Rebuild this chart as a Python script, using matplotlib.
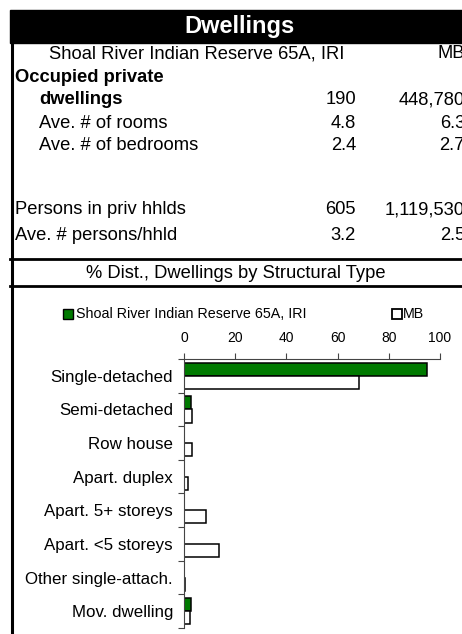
import matplotlib
matplotlib.use("Agg")
import matplotlib.pyplot as plt
import numpy as np

plt.rcParams['font.family'] = ['Liberation Sans', 'DejaVu Sans']

# ---- data ----
title = "Dwellings"
area_name = "Shoal River Indian Reserve 65A, IRI"
prov_name = "MB"
row_labels = ["Occupied private", "dwellings", "Ave. # of rooms", "Ave. # of bedrooms",
              "Persons in priv hhlds", "Ave. # persons/hhld"]
area_values = ["", "190", "4.8", "2.4", "605", "3.2"]
prov_values = ["", "448,780", "6.3", "2.7", "1,119,530", "2.5"]
chart_title = "% Dist., Dwellings by Structural Type"
categories = ["Single-detached", "Semi-detached", "Row house", "Apart. duplex",
              "Apart. 5+ storeys", "Apart. <5 storeys", "Other single-attach.", "Mov. dwelling"]
area_pct = [95.0, 2.6, 0.0, 0.0, 0.0, 0.0, 0.0, 2.9]
prov_pct = [68.4, 3.3, 3.3, 1.5, 8.5, 13.7, 0.2, 2.3]
xticks = [0, 20, 40, 60, 80, 100]

W, H = 462, 634
fig = plt.figure(figsize=(W / 100, H / 100), dpi=100)

# layout axes in pixel coordinates
lay = fig.add_axes([0, 0, 1, 1])
lay.set_xlim(0, W)
lay.set_ylim(H, 0)
lay.axis('off')

# title bar
lay.add_patch(plt.Rectangle((10, 10), W - 10, 33, color='black', zorder=1))
lay.text(240, 27, title, color='white', fontsize=17, fontweight='bold',
         ha='center', va='center')
# left border
lay.plot([11.5, 11.5], [10, H], color='black', lw=2.2, solid_capstyle='butt')
# horizontal separators
lay.plot([10, W], [259, 259], color='black', lw=2.0)
lay.plot([10, W], [286, 286], color='black', lw=2.0)

fs = 13.2
lay.text(49, 54, area_name, fontsize=fs, ha='left', va='center')
lay.text(465, 54, prov_name, fontsize=fs, ha='right', va='center')

row_y = [77, 100, 123, 146, 210, 236]
row_x = [15, 39, 39, 39, 15, 15]
row_bold = [True, True, False, False, False, False]
for lab, av, pv, y, x, b in zip(row_labels, area_values, prov_values, row_y, row_x, row_bold):
    lay.text(x, y, lab, fontsize=fs, ha='left', va='center',
             fontweight='bold' if b else 'normal')
    lay.text(356, y, av, fontsize=fs, ha='right', va='center')
    lay.text(465, y, pv, fontsize=fs, ha='right', va='center')

lay.text(236, 273, chart_title, fontsize=fs, ha='center', va='center')

# legend (manual)
green = '#007A00'
lay.plot([68], [314], marker='s', ms=7, mfc=green, mec='black', mew=1.0)
lay.text(76, 314, area_name, fontsize=10.3, ha='left', va='center')
lay.plot([397], [314], marker='s', ms=7, mfc='white', mec='black', mew=1.3)
lay.text(403, 314, prov_name, fontsize=10.3, ha='left', va='center')

# chart axes
x0, x1 = 184, 440
y0, y1 = 359, 628
ax = fig.add_axes([x0 / W, 1 - y1 / H, (x1 - x0) / W, (y1 - y0) / H])
n = len(categories)
pos = np.arange(n)
bh = 0.39
ax.barh(pos - bh / 2, area_pct, height=bh, color=green, edgecolor='black', linewidth=1.1)
ax.barh(pos + bh / 2, prov_pct, height=bh, color='white', edgecolor='black', linewidth=1.1)
ax.set_xlim(0, 100)
ax.set_ylim(n - 0.5, -0.5)
ax.xaxis.tick_top()
ax.set_xticks(xticks)
ax.set_xticklabels([str(t) for t in xticks], fontsize=10)
ax.tick_params(axis='x', direction='out', length=4, width=0.8, color='#444444', pad=6)
ax.set_yticks(pos)
ax.set_yticklabels(categories, fontsize=12.2)
ax.tick_params(axis='y', which='major', length=0, pad=8)
ax.set_yticks(np.arange(n + 1) - 0.5, minor=True)
ax.tick_params(axis='y', which='minor', direction='out', length=4, width=0.8, color='#444444')
for s in ['right', 'bottom']:
    ax.spines[s].set_visible(False)
ax.spines['top'].set_color('#444444')
ax.spines['left'].set_color('#444444')
ax.spines['top'].set_linewidth(0.8)
ax.spines['left'].set_linewidth(0.8)
ax.patch.set_alpha(0)

fig.savefig('out.png', dpi=100)
